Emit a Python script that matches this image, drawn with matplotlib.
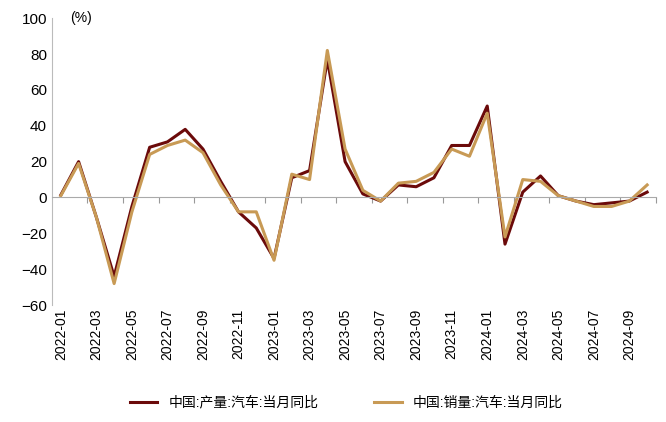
import matplotlib.pyplot as plt
import pandas as pd

plt.rcParams['font.family'] = ['Liberation Sans', 'Noto Sans CJK SC']

months = pd.period_range('2022-01', '2024-10', freq='M').strftime('%Y-%m').tolist()
production = [1.4, 20, -11, -44, -5, 28, 31, 38, 27, 9, -8, -17, -34, 11, 15, 77, 20, 2,
              -2, 7, 6, 11, 29, 29, 51, -26, 3, 12, 1, -2, -4, -3, -2, 3]
sales = [1, 19, -11, -48, -8, 24, 29, 32, 25, 7, -8, -8, -35, 13, 10, 82, 27, 4,
         -2, 8, 9, 14, 27, 23, 47, -22, 10, 9, 1, -2, -5, -5, -2, 7]

fig, ax = plt.subplots(figsize=(6.66, 4.22), dpi=100)
fig.subplots_adjust(left=0.078, right=0.985, top=0.957, bottom=0.277)
x = list(range(len(months)))
ax.plot(x, production, color='#6b0a0a', lw=2.2, label='中国:产量:汽车:当月同比')
ax.plot(x, sales, color='#c89a55', lw=2.2, label='中国:销量:汽车:当月同比')

ax.set_ylim(-60, 100)
ax.set_yticks(range(-60, 101, 20))
ax.set_xlim(-0.5, len(months) - 0.5)
ax.set_xticks([i + 0.5 for i in x[1::2]])
ax.set_xticklabels([])
ax.tick_params(axis='x', length=4, color='#999999', direction='out')
ax.tick_params(axis='y', length=0, labelsize=11)
for s in ['top', 'right']:
    ax.spines[s].set_visible(False)
ax.spines['left'].set_color('#bbbbbb')
ax.spines['bottom'].set_color('#aaaaaa')
ax.spines['bottom'].set_position(('data', 0))
for i in x[::2]:
    ax.text(i, -62, months[i], rotation=90, ha='center', va='top', fontsize=10)
ax.text(0.5, 100, '(%)', fontsize=10, va='center')

fig.legend(loc='lower center', ncol=2, frameon=False, fontsize=10,
           bbox_to_anchor=(0.52, 0.0), columnspacing=4)
fig.savefig('out.png')
